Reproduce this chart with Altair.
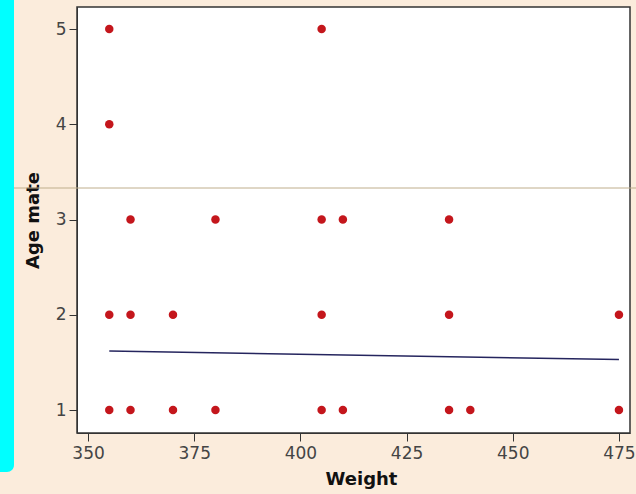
import altair as alt
import pandas as pd

weights = [355, 405, 355, 360, 380, 405, 410, 435,
           355, 360, 370, 405, 435, 475,
           355, 360, 370, 380, 405, 410, 435, 440, 475]
age_mate = [5, 5, 4, 3, 3, 3, 3, 3,
            2, 2, 2, 2, 2, 2,
            1, 1, 1, 1, 1, 1, 1, 1, 1]

fit_weight = [355, 475]
fit_age = [1.62, 1.53]

x_ticks = [350, 375, 400, 425, 450, 475]
y_ticks = [1, 2, 3, 4, 5]

pts = pd.DataFrame({"Weight": weights, "Age mate": age_mate})
fit = pd.DataFrame({"Weight": fit_weight, "Age mate": fit_age})

xs = alt.Scale(domain=[347.4, 477.6], nice=False, zero=False)
ys = alt.Scale(domain=[0.759, 5.231], nice=False, zero=False)

xax = alt.Axis(values=x_ticks, grid=False, format="d", domainColor="#333333", tickColor="#333333",
               tickSize=8, labelFont="DejaVu Sans", labelFontSize=17, labelColor="#444444",
               labelPadding=4, title="Weight", titleFont="DejaVu Sans", titleFontSize=18,
               titleFontWeight="bold", titleColor="#111111", titlePadding=9, titleX=284)
yax = alt.Axis(values=y_ticks, grid=False, format="d", domainColor="#333333", tickColor="#333333",
               tickSize=8, labelFont="DejaVu Sans", labelFontSize=17, labelColor="#444444",
               labelPadding=3, title="Age mate", titleFont="DejaVu Sans", titleFontSize=18,
               titleFontWeight="bold", titleColor="#111111", titlePadding=13)

points = alt.Chart(pts).mark_circle(size=72, color="#c4161c", opacity=1).encode(
    x=alt.X("Weight:Q", scale=xs, axis=xax),
    y=alt.Y("Age mate:Q", scale=ys, axis=yax),
)

line = alt.Chart(fit).mark_line(color="#25255e", strokeWidth=1.5).encode(
    x=alt.X("Weight:Q", scale=xs),
    y=alt.Y("Age mate:Q", scale=ys),
)

strip = alt.Chart(pd.DataFrame({"a": [0]})).mark_rect(color="#00ffff", cornerRadiusBottomRight=30).encode(
    x=alt.value(-77), x2=alt.value(-63), y=alt.value(-7), y2=alt.value(465)
)

scan = alt.Chart(pd.DataFrame({"a": [0]})).mark_rule(color="#bfae8c", strokeWidth=1).encode(
    x=alt.value(-63), x2=alt.value(559), y=alt.value(181)
)

chart = alt.layer(strip, line, points, scan).properties(
    width=553, height=426,
    background="#fbecdc",
    padding={"left": 77, "top": 7, "right": 6, "bottom": 61},
    autosize=alt.AutoSizeParams(type="none"),
).configure_view(
    fill="#ffffff", stroke="#333333", strokeWidth=1.5
)

chart.save("out.html", embed_options={"renderer": "svg", "actions": False})
